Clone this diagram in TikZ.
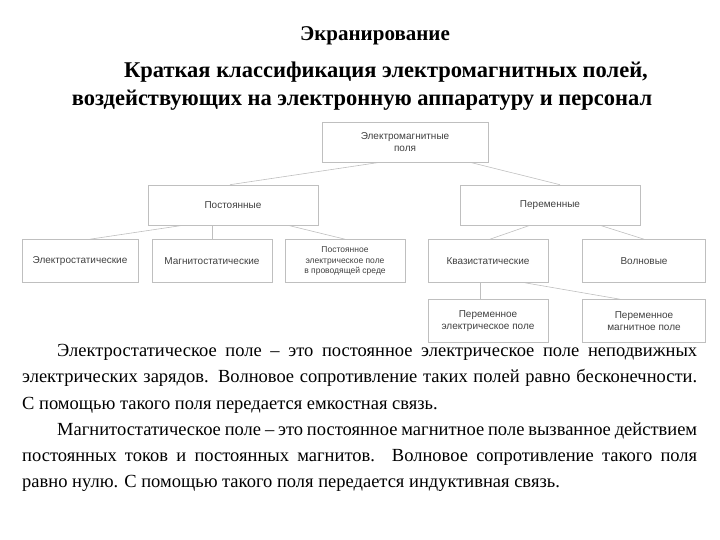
\documentclass[tikz,border=0pt]{standalone}
\usepackage{fontspec}
\setmainfont{Liberation Serif}
\newfontfamily\dsans{Liberation Sans}
\begin{document}
\begin{tikzpicture}[x=1pt,y=-1pt,
  bx/.style={draw=black!25,line width=0.6pt,minimum width=#1,minimum height=43,align=center,font=\dsans\fontsize{10}{12}\selectfont,text=black!75,inner sep=1pt},
  bx/.default=120,
  cn/.style={draw=black!25,line width=0.6pt}]
\useasboundingbox (0,0) rectangle (720,540);
\node[font=\bfseries\fontsize{21}{25}\selectfont] (t1) at (375,36) {Экранирование};
\node[font=\bfseries\fontsize{22.5}{28}\selectfont,align=center] (t2) at (362,86) {\hspace*{48pt}Краткая классификация электромагнитных полей,\\воздействующих на электронную аппаратуру и персонал};
\node[bx=166,minimum height=40] (em) at (405,142) {Электромагнитные\\поля};
\node[bx=170,minimum height=40] (po) at (233,205) {Постоянные};
\node[bx=180,minimum height=40] (pe) at (550,205) {Переменные};
\node[bx=116] (es) at (80,261) {Электростатические};
\node[bx] (ms) at (212,261) {Магнитостатические};
\node[bx,font=\dsans\fontsize{8.5}{10.5}\selectfont] (pp) at (345,261) {Постоянное\\электрическое поле\\в проводящей среде};
\node[bx] (kv) at (488,261) {Квазистатические};
\node[bx=123] (vo) at (644,261) {Волновые};
\node[bx] (pep) at (488,321) {Переменное\\электрическое поле};
\node[bx=123] (pmp) at (644,321) {Переменное\\магнитное поле};
\draw[cn] ([xshift=-25]em.south) -- ([xshift=-3]po.north);
\draw[cn] ([xshift=65]em.south) -- ([xshift=10]pe.north);
\draw[cn] ([xshift=-50]po.south) -- ([xshift=10]es.north);
\draw[cn] ([xshift=-21]po.south) -- (ms.north);
\draw[cn] ([xshift=55]po.south) -- (pp.north);
\draw[cn] ([xshift=-20]pe.south) -- ([xshift=2]kv.north);
\draw[cn] ([xshift=50]pe.south) -- (vo.north);
\draw[cn] ([xshift=-8]kv.south) -- ([xshift=-8]pep.north);
\draw[cn] ([xshift=37]kv.south) -- ([xshift=-24]pmp.north);
\node[text width=675,align=justify,anchor=north west,inner sep=0,font=\fontsize{18.5}{26.3}\selectfont] (body) at (22,344) {\hspace*{35pt}Электростатическое поле – это постоянное электрическое поле неподвижных электрических зарядов. Волновое сопротивление таких полей равно бесконечности. С помощью такого поля передается емкостная связь.\par
\hspace*{35pt}Магнитостатическое поле – это постоянное магнитное поле вызванное действием постоянных токов и постоянных магнитов. Волновое сопротивление такого поля равно нулю. С помощью такого поля передается индуктивная связь.};
\end{tikzpicture}
\end{document}
